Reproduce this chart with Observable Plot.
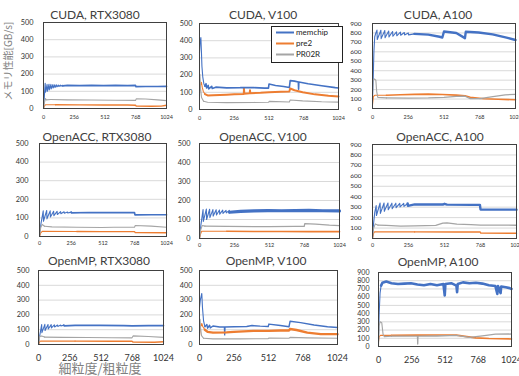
<!DOCTYPE html>
<html><head><meta charset="utf-8">
<script src="https://cdn.jsdelivr.net/npm/d3@7"></script>
<script src="https://cdn.jsdelivr.net/npm/@observablehq/plot@0.6"></script>
<style>
body{margin:0;background:#fff;}
#wrap{position:relative;width:519px;height:376px;overflow:hidden;background:#fff;font-family:Lato,"Liberation Sans",sans-serif;}
#wrap svg.plot{position:absolute;}
#overlay{position:absolute;left:0;top:0;}
</style></head><body><div id="wrap"></div>
<script>
// ---------- data ----------
const titles = ["CUDA, RTX3080","CUDA, V100","CUDA, A100","OpenACC, RTX3080","OpenACC, V100","OpenACC, A100","OpenMP, RTX3080","OpenMP, V100","OpenMP, A100"];
const seriesNames = ["memchip","pre2","PR02R"];
const xTicks = [0,256,512,768,1024];
const yTicks500 = [0,100,200,300,400,500];
const yTicks900 = [0,100,200,300,400,500,600,700,800,900];
const yAxisTitle = "メモリ性能[GB/s]";
const xAxisTitle = "細粒度/粗粒度";

// CUDA, RTX3080
const cudaRtxMemchip = [[0,0],[6,60],[14,146],[17,95],[30,140],[32,100],[46,141],[48,108],[62,140],[64,114],[78,139],[80,119],[94,138],[96,123],[110,137],[112,126],[126,136],[128,128],[142,136],[144,130],[158,135],[160,131],[200,134],[300,133],[400,134],[500,133],[600,134],[700,133],[766,134],[770,127],[850,128],[950,128],[1024,129]];
const cudaRtxPre2 = [[0,0],[8,15],[18,22],[100,22],[300,21],[500,20],[700,20],[766,19],[772,14],[900,13],[980,14],[1024,19]];
const cudaRtxPr02r = [[0,0],[8,35],[16,58],[24,50],[60,52],[200,50],[400,49],[600,48],[766,47],[772,56],[850,55],[950,50],[1024,46]];
// CUDA, V100
const cudaV100Memchip = [[0,330],[4,390],[10,418],[14,340],[18,250],[24,190],[32,150],[40,135],[48,150],[52,125],[64,140],[68,120],[90,135],[94,122],[120,130],[200,126],[300,127],[325,128],[327,98],[329,128],[400,127],[480,124],[508,124],[512,148],[560,140],[620,134],[662,128],[668,168],[700,165],[728,160],[730,118],[732,160],[800,150],[900,138],[1000,127],[1024,125]];
const cudaV100Pre2 = [[0,100],[6,140],[14,158],[20,130],[28,105],[40,90],[60,82],[100,83],[200,86],[256,88],[326,90],[328,118],[330,92],[370,95],[372,112],[374,95],[450,97],[512,100],[600,103],[662,104],[668,122],[700,112],[760,100],[850,88],[950,80],[1024,76]];
const cudaV100Pr02r = [[0,80],[3,205],[8,120],[15,70],[30,48],[60,42],[200,40],[400,41],[508,42],[514,47],[662,44],[668,55],[760,50],[900,45],[1024,43]];
// CUDA, A100
const cudaA100Memchip = [[0,100],[5,320],[10,600],[16,760],[24,800],[32,830],[34,730],[60,828],[62,740],[88,825],[90,750],[116,820],[118,758],[144,815],[146,765],[172,812],[174,770],[200,808],[202,775],[228,805],[230,778],[256,800],[258,780],[300,790],[400,782],[480,760],[500,752],[512,815],[600,800],[662,745],[668,812],[760,805],[860,785],[960,750],[1024,725]];
const cudaA100Pre2 = [[0,40],[6,125],[16,140],[100,140],[200,145],[300,150],[400,152],[500,148],[600,142],[662,135],[700,118],[800,104],[900,98],[1024,92]];
const cudaA100Pr02r = [[0,150],[4,300],[14,312],[24,300],[30,180],[38,118],[100,112],[256,110],[400,112],[512,118],[600,128],[662,130],[700,105],[768,104],[850,122],[950,145],[1024,150]];
// OpenACC, RTX3080
const accRtxMemchip = [[0,0],[12,70],[30,138],[32,82],[58,140],[60,95],[86,138],[88,105],[114,136],[116,112],[142,135],[144,118],[170,134],[172,122],[198,133],[200,125],[226,132],[228,126],[256,131],[258,127],[400,129],[600,128],[766,128],[770,116],[900,117],[1024,117]];
const accRtxPre2 = [[0,0],[10,20],[22,28],[300,27],[500,26],[766,26],[772,21],[1024,20]];
const accRtxPr02r = [[0,0],[10,50],[22,65],[40,55],[100,52],[300,50],[500,48],[600,50],[766,50],[772,59],[900,56],[1024,50]];
// OpenACC, V100
const accV100Memchip = [[0,0],[10,70],[26,152],[28,90],[50,155],[52,100],[74,154],[76,110],[98,152],[100,118],[122,151],[124,124],[146,150],[148,128],[170,149],[172,132],[194,148],[196,135],[218,148],[220,138],[300,143],[400,145],[500,147],[600,146],[700,147],[800,148],[900,146],[1024,145]];
const accV100Pre2 = [[0,0],[8,25],[16,38],[200,38],[400,37],[600,37],[800,36],[1024,36]];
const accV100Pr02r = [[0,0],[8,45],[20,68],[40,65],[200,64],[400,62],[512,63],[700,64],[766,64],[770,78],[850,76],[950,70],[1024,68]];
// OpenACC, A100
const accA100Memchip = [[0,0],[8,150],[16,250],[26,315],[28,220],[54,340],[56,240],[82,340],[84,260],[110,340],[112,275],[138,338],[140,285],[166,338],[168,295],[194,337],[196,303],[222,336],[224,308],[250,335],[252,312],[300,326],[400,326],[500,325],[512,332],[530,324],[700,322],[764,322],[768,278],[1024,276]];
const accA100Pre2 = [[0,0],[8,50],[15,64],[300,63],[600,62],[766,62],[770,52],[1024,50]];
const accA100Pr02r = [[0,0],[8,100],[20,140],[40,128],[100,125],[200,118],[300,120],[450,125],[500,148],[530,150],[600,138],[700,132],[768,128],[900,128],[1024,127]];
// OpenMP, RTX3080
const ompRtxMemchip = [[0,0],[8,50],[26,135],[28,80],[52,136],[54,95],[78,135],[80,105],[104,134],[106,112],[130,133],[132,118],[156,132],[158,122],[182,131],[184,125],[208,131],[210,126],[300,129],[500,129],[700,128],[768,126],[900,127],[1024,128]];
const ompRtxPre2 = [[0,0],[10,20],[20,24],[300,23],[600,22],[766,22],[775,16],[950,15],[1024,19]];
const ompRtxPr02r = [[0,0],[10,55],[25,58],[50,50],[200,48],[400,47],[600,46],[766,45],[775,58],[900,54],[1024,48]];
// OpenMP, V100
const ompV100Memchip = [[0,250],[6,300],[17,345],[22,250],[30,160],[40,120],[55,135],[60,110],[75,130],[80,112],[100,125],[150,118],[185,118],[187,65],[189,118],[256,120],[350,122],[390,128],[450,124],[510,122],[515,138],[600,128],[664,120],[672,157],[750,148],[850,132],[950,120],[1024,115]];
const ompV100Pre2 = [[0,60],[8,120],[17,142],[25,120],[40,100],[60,85],[100,80],[200,82],[256,85],[400,92],[512,92],[600,95],[664,95],[672,105],[720,98],[800,80],[900,70],[1024,70]];
const ompV100Pr02r = [[0,80],[4,170],[8,110],[15,60],[30,42],[100,38],[300,38],[510,40],[515,44],[664,42],[672,48],[800,45],[1024,42]];
// OpenMP, A100
const ompA100Memchip = [[0,100],[5,400],[12,650],[20,740],[30,775],[60,790],[100,770],[150,760],[200,765],[250,770],[300,755],[350,745],[400,760],[450,745],[500,760],[510,620],[515,760],[560,770],[600,740],[605,660],[610,760],[650,780],[700,770],[750,775],[800,765],[850,745],[900,735],[915,640],[920,735],[940,650],[945,730],[980,720],[1010,710],[1024,700]];
const ompA100Pre2 = [[0,60],[5,120],[15,135],[100,135],[300,138],[500,140],[600,138],[680,120],[750,105],[850,98],[1024,92]];
const ompA100Pr02r = [[0,0],[5,250],[12,300],[25,290],[35,150],[45,120],[100,125],[300,125],[302,30],[304,125],[450,128],[600,135],[700,112],[800,130],[900,150],[1024,152]];

// ---------- layout / style ----------
const colors = ["#4472C4","#ED7D31","#A5A5A5"];
const panels = [
  {s:[cudaRtxMemchip,cudaRtxPre2,cudaRtxPr02r], y:yTicks500, f:[43,166,22,108], yPad:10, yFont:7.3, row:0, split:[160,30,30], w:[1.7,1.4,1.1], t:[95,19]},
  {s:[cudaV100Memchip,cudaV100Pre2,cudaV100Pr02r], y:yTicks500, f:[199,338,23,109], yPad:7, yFont:7.3, row:0, split:[40,30,30], w:[1.6,2,1.1], t:[263,18.5]},
  {s:[cudaA100Memchip,cudaA100Pre2,cudaA100Pr02r], y:yTicks900, f:[372,515,23,108], yPad:11, yFont:6.5, row:0, split:[260,20,40], w:[2.4,1.6,1.3], t:[438,18.5]},
  {s:[accRtxMemchip,accRtxPre2,accRtxPr02r], y:yTicks500, f:[39,166,143,236], yPad:11, yFont:7.3, row:1, split:[256,30,30], w:[1.7,1.4,1.1], t:[97,140.5]},
  {s:[accV100Memchip,accV100Pre2,accV100Pr02r], y:yTicks500, f:[199,339,143,238], yPad:9, yFont:7.3, row:1, split:[220,30,30], w:[3.2,1.6,1.3], t:[263,140.5]},
  {s:[accA100Memchip,accA100Pre2,accA100Pr02r], y:yTicks900, f:[372,516,144,238], yPad:11, yFont:6.5, row:1, split:[250,20,30], w:[2.4,1.4,1.3], t:[440,140.5]},
  {s:[ompRtxMemchip,ompRtxPre2,ompRtxPr02r], y:yTicks500, f:[38,163,270,344], yPad:9, yFont:7.3, row:2, split:[208,30,30], w:[1.7,1.4,1.1], t:[99,265]},
  {s:[ompV100Memchip,ompV100Pre2,ompV100Pr02r], y:yTicks500, f:[199,337,270,344], yPad:7, yFont:7.3, row:2, split:[40,30,30], w:[1.4,2.4,1.1], t:[266,265]},
  {s:[ompA100Memchip,ompA100Pre2,ompA100Pr02r], y:yTicks900, f:[378,511,272,346], yPad:9, yFont:7, row:2, split:[20,20,50], w:[2.6,1.6,1.3], t:[438,265.5]}
];
const rowX = [{font:5.5,pad:6.5},{font:5.5,pad:5},{font:9,pad:10.5}];

const wrap = document.getElementById("wrap");
const mL = 34, mR = 6, mT = 4, mB = 26;

function segments(pts, split) {
  let i = pts.findIndex(d => d[0] >= split);
  if (i < 0) i = pts.length - 1;
  return [pts.slice(0, i + 1), pts.slice(i)];
}

panels.forEach((p, k) => {
  const [L, R, T, B] = p.f;
  const lines = [];
  p.s.forEach((pts, j) => {
    const [a, b] = segments(pts, p.split[j]);
    lines.push(Plot.line(a, {x: d => d[0], y: d => d[1], stroke: colors[j], strokeWidth: 1.1, strokeLinejoin: "round"}));
    lines.push(Plot.line(b, {x: d => d[0], y: d => d[1], stroke: colors[j], strokeWidth: p.w[j], strokeLinejoin: "round"}));
  });
  const rx = rowX[p.row];
  const svg = Plot.plot({
    width: (R - L) + mL + mR,
    height: (B - T) + mT + mB,
    marginLeft: mL, marginRight: mR, marginTop: mT, marginBottom: mB,
    x: {domain: [0, 1024], axis: null},
    y: {domain: [0, p.y[p.y.length - 1]], axis: null},
    style: {background: "transparent", color: "#333", fontFamily: "Lato, 'Liberation Sans', sans-serif", overflow: "visible"},
    marks: [
      Plot.gridY(p.y, {stroke: "#d9d9d9", strokeOpacity: 1}),
      Plot.axisY(p.y, {tickSize: 0, tickPadding: p.yPad, fontSize: p.yFont, label: null, tickFormat: d => String(d)}),
      Plot.axisX(xTicks, {tickSize: 0, tickPadding: rx.pad, fontSize: rx.font, label: null, tickFormat: d => String(d)}),
      ...lines,
      Plot.frame({stroke: "#404040", strokeWidth: 1})
    ]
  });
  svg.classList.add("plot");
  svg.style.left = (L - mL) + "px";
  svg.style.top = (T - mT) + "px";
  wrap.appendChild(svg);
});

// overlay: titles, axis titles, legend
const ov = d3.select(wrap).append("svg").attr("id", "overlay").attr("width", 519).attr("height", 376);
panels.forEach((p, k) => {
  ov.append("text").attr("x", p.t[0]).attr("y", p.t[1]).attr("text-anchor", "middle")
    .attr("font-family", "Lato, 'Liberation Sans', sans-serif").attr("font-weight", 400).attr("font-size", 12).attr("fill", "#404040").text(titles[k]);
});
ov.append("text").attr("transform", "translate(12,61) rotate(-90)").attr("text-anchor", "middle")
  .attr("font-family", "'Noto Sans CJK JP', sans-serif").attr("font-size", 10).attr("fill", "#7f7f7f").text(yAxisTitle);
ov.append("text").attr("x", 100).attr("y", 373).attr("text-anchor", "middle")
  .attr("font-family", "'Noto Sans CJK JP', sans-serif").attr("font-size", 13).attr("fill", "#7f7f7f").text(xAxisTitle);

const lg = ov.append("g");
lg.append("rect").attr("x", 271.5).attr("y", 26.5).attr("width", 71).attr("height", 36).attr("fill", "#fff").attr("stroke", "#222");
seriesNames.forEach((n, j) => {
  const yy = 32.5 + j * 11;
  lg.append("line").attr("x1", 276).attr("x2", 294).attr("y1", yy).attr("y2", yy).attr("stroke", colors[j]).attr("stroke-width", 2);
  lg.append("text").attr("x", 296).attr("y", yy).attr("dy", "0.35em").attr("font-family", "Lato, 'Liberation Sans', sans-serif")
    .attr("font-size", 8).attr("fill", "#222").text(n);
});
</script></body></html>
